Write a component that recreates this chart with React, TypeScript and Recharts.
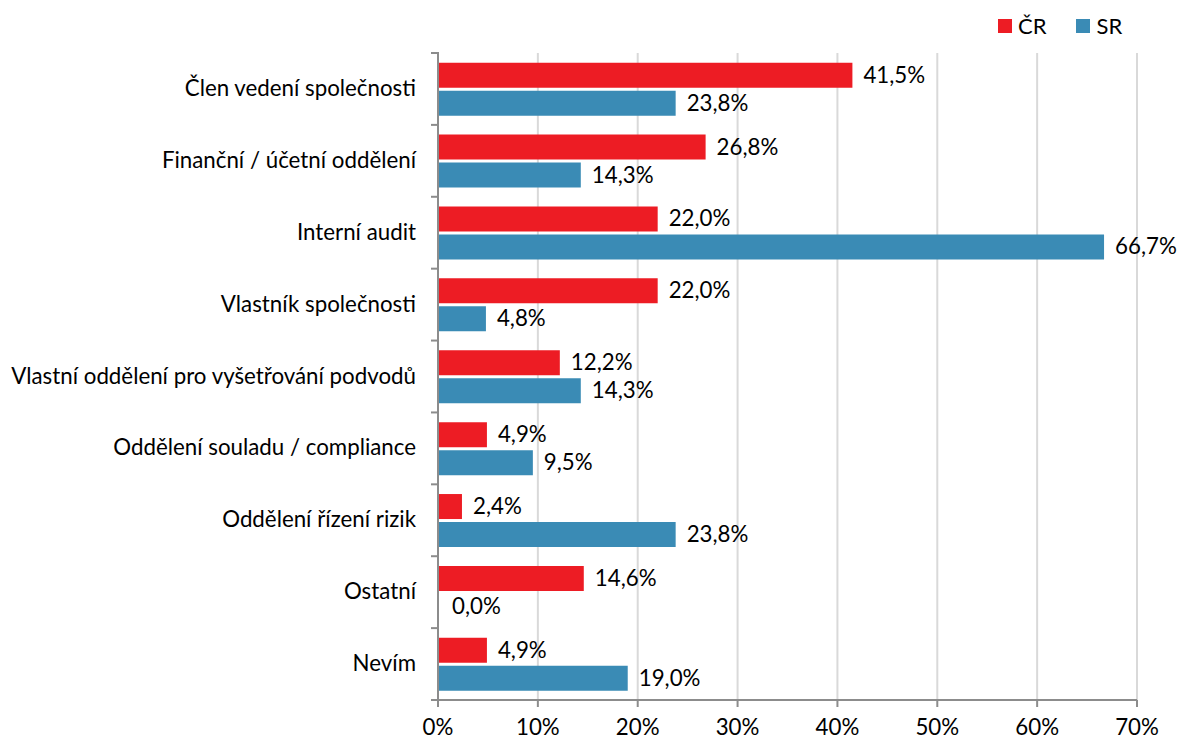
import { Bar, BarChart, CartesianGrid, Cell, LabelList, XAxis, YAxis } from "recharts";

const categories = [
	"Člen vedení společnosti",
	"Finanční / účetní oddělení",
	"Interní audit",
	"Vlastník společnosti",
	"Vlastní oddělení pro vyšetřování podvodů",
	"Oddělení souladu / compliance",
	"Oddělení řízení rizik",
	"Ostatní",
	"Nevím",
];
const crValues = [41.5, 26.8, 22.0, 22.0, 12.2, 4.9, 2.4, 14.6, 4.9];
const srValues = [23.8, 14.3, 66.7, 4.8, 14.3, 9.5, 23.8, 0.0, 19.0];
const xTicks = [0, 10, 20, 30, 40, 50, 60, 70];

const RED = "#ED1C24";
const BLUE = "#3A8BB5";
const FONT = "Lato, 'Open Sans', sans-serif";
const FS = 22.3;

const W = 1177;
const H = 742;
const TOP = 53;
const BOTTOM = 42;
const BAND = (H - TOP - BOTTOM) / categories.length;

const data = categories.map((name, i) => ({ name, cr: crValues[i], sr: srValues[i] }));

const fmt = (v: number) => `${v.toFixed(1).replace(".", ",")}%`;

function CategoryTick(props: any) {
	const { x, y, payload, index } = props;
	const top = y - BAND / 2;
	return (
		<g>
			<line x1={x + 1} x2={x + 9} y1={top} y2={top} stroke="#8c8c8c" strokeWidth={2} />
			{index === categories.length - 1 && (
				<line x1={x + 1} x2={x + 9} y1={y + BAND / 2} y2={y + BAND / 2} stroke="#8c8c8c" strokeWidth={2} />
			)}
			<text x={x - 14} y={y} dy={7} textAnchor="end" fill="#000" fontSize={FS} fontFamily={FONT}>
				{payload.value}
			</text>
		</g>
	);
}

function ValueLabel(props: any) {
	const { x, y, width, height, value } = props;
	const v = Number(value);
	const w = v === 0 ? 3 : width || 0;
	return (
		<text x={x + w + 11} y={y + height / 2} dy={7.5} fill="#000" fontSize={FS} fontFamily={FONT}>
			{fmt(v)}
		</text>
	);
}

function LegendBox() {
	const item = (color: string, label: string) => (
		<div style={{ display: "flex", alignItems: "center", marginRight: 30 }}>
			<div style={{ width: 14, height: 14, background: color, marginRight: 6 }} />
			<span style={{ fontSize: 22, fontFamily: FONT, color: "#000" }}>{label}</span>
		</div>
	);
	return (
		<div style={{ position: "absolute", left: 998, top: 12, display: "flex" }}>
			{item(RED, "ČR")}
			{item(BLUE, "SR")}
		</div>
	);
}

export default function App() {
	return (
		<div style={{ position: "absolute", left: 0, top: 0, width: W, height: H, background: "#fff" }}>
			<BarChart
				width={W}
				height={H}
				data={data}
				layout="vertical"
				margin={{ top: TOP, right: 40, bottom: 0, left: 0 }}
				barCategoryGap="13.5%"
				barGap={3}
			>
				<CartesianGrid horizontal={false} stroke="#d9d9d9" strokeWidth={2} />
				<XAxis
					type="number"
					domain={[0, 70]}
					ticks={xTicks}
					tickFormatter={(v: number) => `${v}%`}
					height={BOTTOM}
					tickSize={7}
					tickLine={{ stroke: "#8c8c8c", strokeWidth: 2 }}
					axisLine={{ stroke: "#8c8c8c", strokeWidth: 2 }}
					tick={{ fill: "#000", fontSize: FS, fontFamily: FONT }}
					tickMargin={12}
				/>
				<YAxis
					type="category"
					dataKey="name"
					width={438}
					tickLine={false}
					axisLine={{ stroke: "#8c8c8c", strokeWidth: 2 }}
					tick={<CategoryTick />}
					interval={0}
				/>
				<Bar dataKey="cr" name="ČR" fill={RED} isAnimationActive={false}>
					<LabelList dataKey="cr" content={<ValueLabel />} />
				</Bar>
				<Bar dataKey="sr" name="SR" fill={BLUE} minPointSize={1} isAnimationActive={false}>
					{srValues.map((v, i) => (
						<Cell key={i} fill={v === 0 ? "transparent" : BLUE} />
					))}
					<LabelList dataKey="sr" content={<ValueLabel />} />
				</Bar>
			</BarChart>
			<LegendBox />
		</div>
	);
}
